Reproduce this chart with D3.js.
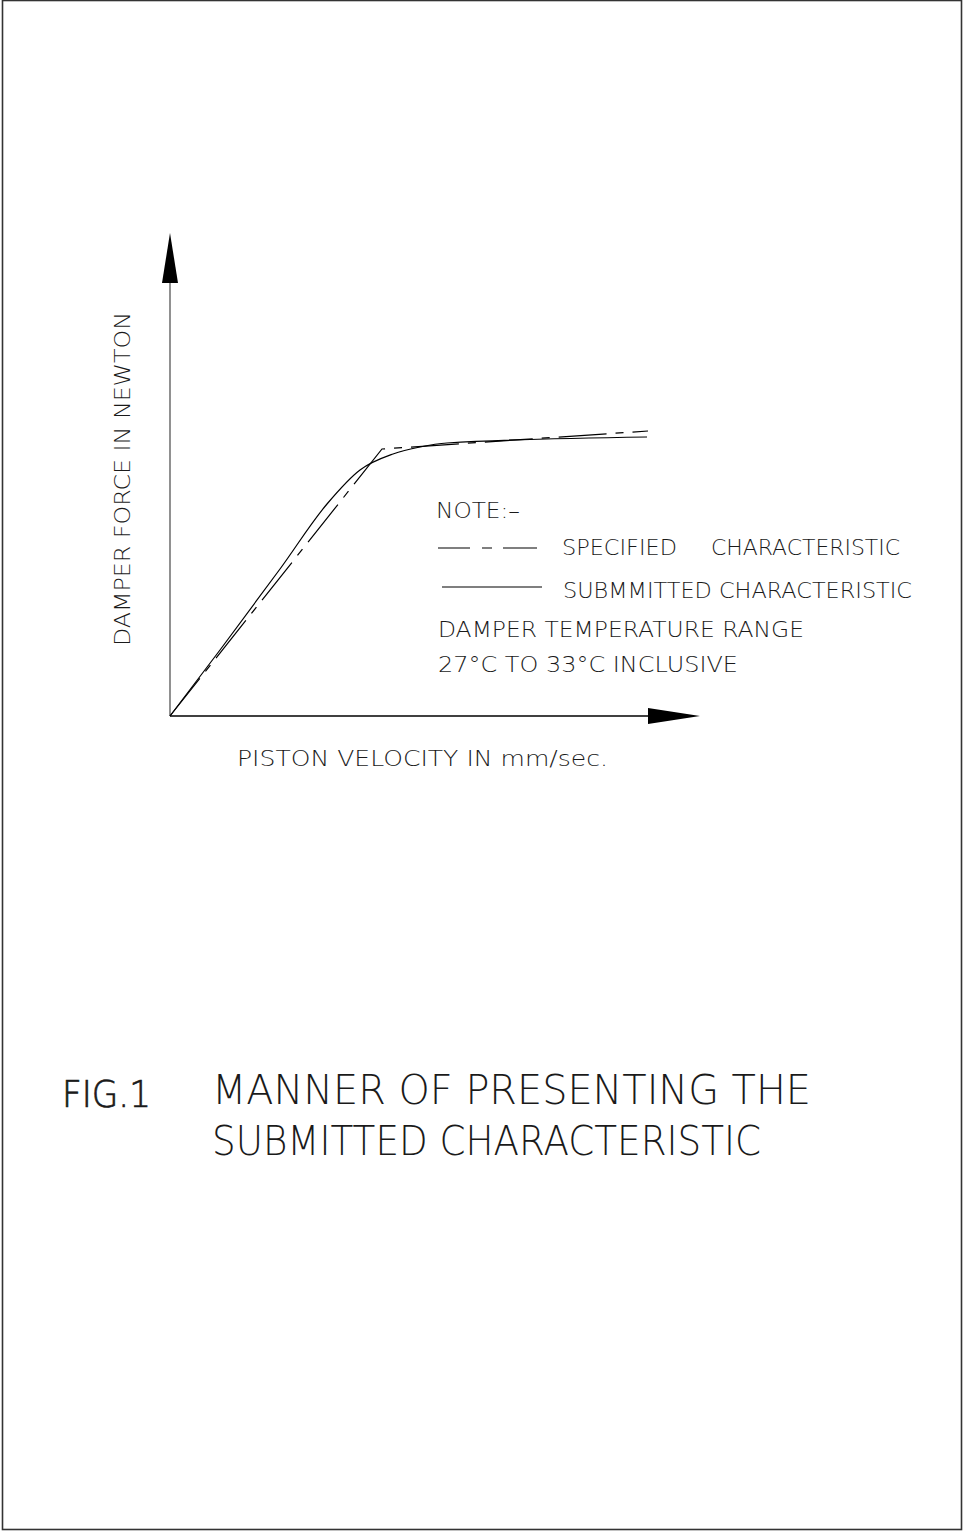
<!DOCTYPE html>
<html>
<head>
<meta charset="utf-8">
<script src="https://cdn.jsdelivr.net/npm/d3@7"></script>
<style>
  body { margin: 0; background: #fff; }
  text { font-family: "DejaVu Sans", "Liberation Sans", sans-serif; fill: #1a1a1a; }
</style>
</head>
<body>
<div class="chart"></div>
<script>
// specified characteristic (dash-dot), arbitrary units
var specifiedVelocity = [0, 212, 478];
var specifiedForce    = [0, 267, 285];

// submitted characteristic (solid curve)
var submittedVelocity = [0, 50, 110, 157, 190, 223, 250, 277, 477];
var submittedForce    = [0, 66, 147, 212, 246, 262, 269, 273, 279];

var xLabel = "PISTON VELOCITY IN mm/sec.";
var yLabel = "DAMPER FORCE IN NEWTON";
var noteLines = ["DAMPER  TEMPERATURE  RANGE", "27°C  TO  33°C  INCLUSIVE"];

// Set up SVG container
var svg = d3.select('.chart')
            .append('svg')
            .attr('width', 964)
            .attr('height', 1531);

// sheet border
svg.append("rect")
   .attr("x", 2.5).attr("y", 0.5)
   .attr("width", 959).attr("height", 1529)
   .attr("fill", "none")
   .attr("stroke", "#333")
   .attr("stroke-width", 1.6);

var x = d3.scaleLinear().domain([0, 530]).range([170, 700]);
var y = d3.scaleLinear().domain([0, 483]).range([716, 233]);

// axes with filled arrow heads
svg.append("line")
   .attr("x1", x(0)).attr("y1", y(0))
   .attr("x2", x(0)).attr("y2", y(433))
   .attr("stroke", "#555").attr("stroke-width", 1.3);
svg.append("path")
   .attr("d", "M" + x(0) + "," + y(483) + "L" + (x(0) - 8) + "," + y(433) + "L" + (x(0) + 8) + "," + y(433) + "Z")
   .attr("fill", "#000");

svg.append("line")
   .attr("x1", x(0)).attr("y1", y(0))
   .attr("x2", x(478)).attr("y2", y(0))
   .attr("stroke", "#000").attr("stroke-width", 1.3);
svg.append("path")
   .attr("d", "M" + x(530) + "," + y(0) + "L" + x(478) + "," + (y(0) - 8) + "L" + x(478) + "," + (y(0) + 8) + "Z")
   .attr("fill", "#000");

// curves
var specified = specifiedVelocity.map(function(v, i) { return [v, specifiedForce[i]]; });
var submitted = submittedVelocity.map(function(v, i) { return [v, submittedForce[i]]; });

var straight = d3.line().x(function(d) { return x(d[0]); }).y(function(d) { return y(d[1]); });
var smooth = d3.line().x(function(d) { return x(d[0]); }).y(function(d) { return y(d[1]); })
               .curve(d3.curveMonotoneX);

svg.append("path")
   .attr("d", straight(specified))
   .attr("fill", "none")
   .attr("stroke", "#000")
   .attr("stroke-width", 1.2)
   .attr("stroke-dasharray", "48,9,8,9");

svg.append("path")
   .attr("d", smooth(submitted))
   .attr("fill", "none")
   .attr("stroke", "#000")
   .attr("stroke-width", 1.2);

// helper for the light drafting-style labels
function label(px, py, size, len, str) {
  return svg.append("text")
            .attr("x", px).attr("y", py)
            .attr("font-size", size)
            .attr("textLength", len).attr("lengthAdjust", "spacingAndGlyphs")
            .style("font-weight", 200)
            .text(str);
}

// axis titles
label(237, 766, 21, 371, xLabel);
label(0, 0, 21, 334, yLabel).attr("transform", "translate(130,646) rotate(-90)");

// note / legend
label(436, 518, 21, 84, "NOTE:–");

svg.append("line")
   .attr("x1", 438).attr("y1", 548).attr("x2", 537).attr("y2", 548)
   .attr("stroke", "#000").attr("stroke-width", 1.2)
   .attr("stroke-dasharray", "32,12,10,11,34");
label(562, 555, 21, 115, "SPECIFIED");
label(711, 555, 21, 189, "CHARACTERISTIC");

svg.append("line")
   .attr("x1", 442).attr("y1", 587).attr("x2", 542).attr("y2", 587)
   .attr("stroke", "#000").attr("stroke-width", 1.2);
label(563, 598, 21, 349, "SUBMMITTED  CHARACTERISTIC");

svg.selectAll(".note")
   .data(noteLines)
   .enter().append("text")
   .attr("class", "note")
   .attr("x", 438)
   .attr("y", function(d, i) { return 637 + i * 35; })
   .attr("font-size", 21)
   .attr("textLength", function(d, i) { return i === 0 ? 366 : 300; })
   .attr("lengthAdjust", "spacingAndGlyphs")
   .style("font-weight", 200)
   .text(function(d) { return d; });

// figure caption
label(62, 1107, 37, 89, "FIG.1").style("stroke", "#1a1a1a").style("stroke-width", 0.7);
label(212, 1104, 40, 599, "MANNER  OF  PRESENTING  THE");
label(212, 1155, 40, 549, "SUBMITTED  CHARACTERISTIC");
</script>
</body>
</html>
